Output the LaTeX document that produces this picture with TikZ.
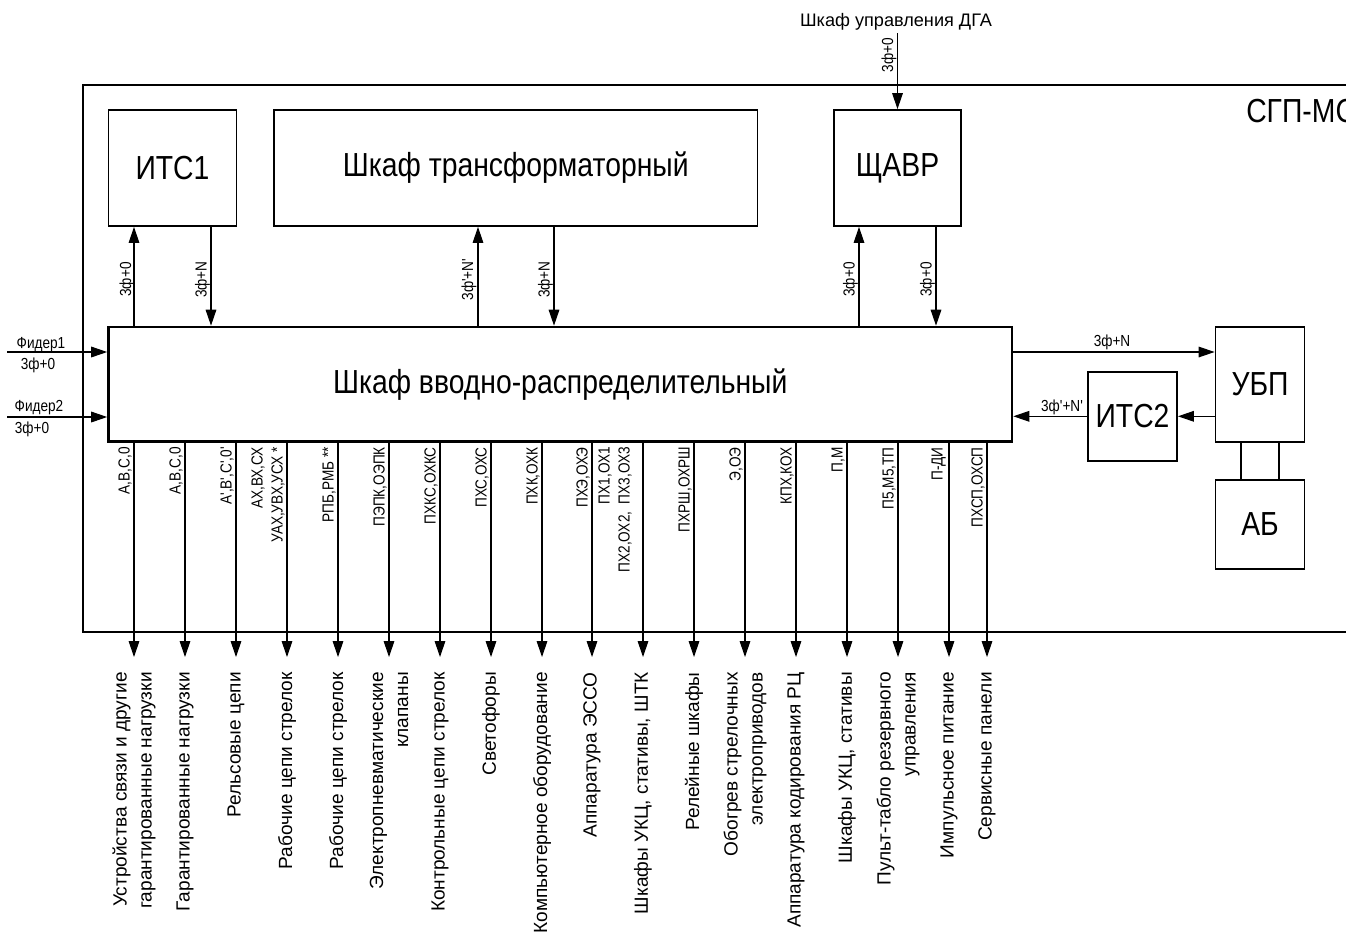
\documentclass[tikz,border=0pt]{standalone}
\usepackage{fontspec}
\setmainfont{Liberation Sans}
\newfontfamily\cbNarrow[FakeStretch=0.85]{Liberation Sans}
\usetikzlibrary{arrows.meta}
\newcommand\cbBoxFont{\cbNarrow\fontsize{25}{29}\selectfont}
\newcommand\cbDescFont{\fontsize{14.3}{18.75}\selectfont}
\newcommand\cbTagFont{\cbNarrow\fontsize{12}{15}\selectfont}
\begin{document}
\begin{tikzpicture}[x=0.75pt,y=-0.75pt,
  box/.style={draw,line width=1.4pt,inner sep=0pt,font=\cbBoxFont},
  mainbox/.style={box,line width=2pt},
  frame/.style={line width=1.1pt},
  wire/.style={line width=0.8pt},
  arr/.style={wire,-{Triangle[length=12pt,width=8pt]}},
  tag/.style={font=\cbTagFont,inner sep=0pt},
  vtag/.style={tag,rotate=90,anchor=base},
  otag/.style={tag,rotate=90,anchor=south east,align=right},
  desc/.style={font=\cbDescFont,inner sep=0pt,rotate=90,anchor=east,align=right}]
\useasboundingbox (0,0) rectangle (1346,933);

% enclosure of the power supply system
\draw[frame] (1350,85) -- (83,85) -- (83,632) -- (1350,632);
\node[font=\cbBoxFont,anchor=west,inner sep=0pt] (sgp) at (1246,111) {СГП-МС};

% cabinets
\node[box,minimum width=96pt,minimum height=87pt] (its1) at (172.5,168) {ИТС1};
\node[box,minimum width=362.6pt,minimum height=87pt] (trafo) at (515.75,168) {Шкаф трансформаторный};
\node[box,minimum width=95.25pt,minimum height=87pt] (shavr) at (897.5,168) {ЩАВР};
\node[mainbox,minimum width=677.6pt,minimum height=85.9pt] (main) at (560.25,384.25) {Шкаф вводно-распределительный};
\node[box,minimum width=66.75pt,minimum height=86pt] (ubp) at (1260,384.3) {УБП};
\node[box,minimum width=66.75pt,minimum height=67pt] (its2) at (1132.5,416.3) {ИТС2};
\node[box,minimum width=66.75pt,minimum height=66.5pt] (ab) at (1260,524.3) {АБ};

% diesel generator control input
\node[font=\fontsize{13.6}{16}\selectfont,inner sep=2pt] (dga) at (896,22) {Шкаф управления ДГА};
\draw[arr] (dga.south -| shavr.north) -- (shavr.north);
\node[vtag,anchor=base east] at (893,38) {3ф+0};

% links between the upper cabinets and the distribution cabinet
\foreach \n/\x in {a/134,b/211,c/478,d/554,e/859,f/936}
  \coordinate (t\n) at (\x,0);
\draw[arr] (main.north -| ta) -- (its1.south -| ta);
\draw[arr] (its1.south -| tb) -- (main.north -| tb);
\draw[arr] (main.north -| tc) -- (trafo.south -| tc);
\draw[arr] (trafo.south -| td) -- (main.north -| td);
\draw[arr] (main.north -| te) -- (shavr.south -| te);
\draw[arr] (shavr.south -| tf) -- (main.north -| tf);
\node[vtag] at (131,279.5) {3ф+0};
\node[vtag] at (206.5,279.5) {3ф+N};
\node[vtag] at (473,279.5) {3ф'+N'};
\node[vtag] at (549.5,279.5) {3ф+N};
\node[vtag] at (854.5,279.5) {3ф+0};
\node[vtag] at (931.5,279.5) {3ф+0};

% feeders
\coordinate (f1) at (7,352);
\coordinate (f2) at (7,417);
\draw[arr] (f1) -- (main.west |- f1);
\draw[arr] (f2) -- (main.west |- f2);
\node[tag,anchor=base] at (41,348) {Фидер1};
\node[tag,anchor=base] at (38,369) {3ф+0};
\node[tag,anchor=base] at (39,411) {Фидер2};
\node[tag,anchor=base] at (32,433) {3ф+0};

% uninterruptible power supply loop
\coordinate (r1) at (0,352);
\draw[arr] (main.east |- r1) -- (ubp.west |- r1);
\draw[arr] (ubp.west |- its2.east) -- (its2.east);
\draw[arr] (its2.west) -- (main.east |- its2.west);
\node[tag,anchor=base] at (1112,346.5) {3ф+N};
\node[tag,anchor=base] at (1062,411) {3ф'+N'};
\coordinate (b1) at (1241,0);
\coordinate (b2) at (1279,0);
\draw[wire] (ubp.south -| b1) -- (ab.north -| b1);
\draw[wire] (ubp.south -| b2) -- (ab.north -| b2);

% outgoing consumer lines
\foreach \i/\x/\g/\w/\d in {
  1/134/2/{А,В,С,0}/{Устройства связи и другие\\гарантированные нагрузки},
  2/185/2/{А,В,С,0}/{Гарантированные нагрузки},
  3/236/2/{А',В',С',0'}/{Рельсовые цепи},
  4/287/2/{АХ,ВХ,СХ\\УАХ,УВХ,УСХ *}/{Рабочие цепи стрелок},
  5/338/2/{РПБ,РМБ **}/{Рабочие цепи стрелок},
  6/389/2/{ПЭПК,ОЭПК}/{Электропневматические\\клапаны},
  7/440/2/{ПХКС,ОХКС}/{Контрольные цепи стрелок},
  8/491/2/{ПХС,ОХС}/{Светофоры},
  9/542/2/{ПХК,ОХК}/{Компьютерное оборудование},
  10/592/2/{ПХЭ,ОХЭ}/{Аппаратура ЭССО},
  11/643/11/{ПХ1,ОХ1\\ПХ2,ОХ2,\ \ ПХ3,ОХ3}/{Шкафы УКЦ, стативы, ШТК},
  12/694/2/{ПХРШ,ОХРШ}/{Релейные шкафы},
  13/745/2/{Э,ОЭ}/{Обогрев стрелочных\\электроприводов},
  14/796/2/{КПХ,КОХ}/{Аппаратура кодирования РЦ},
  15/847/2/{П,М}/{Шкафы УКЦ, стативы},
  16/898/2/{П5,М5,ТП}/{Пульт-табло резервного\\управления},
  17/949/3/{П-ДИ}/{Импульсное питание},
  18/987/2/{ПХСП,ОХСП}/{Сервисные панели}}{
  \coordinate (o\i) at (\x,657);
  \draw[arr] (main.south -| o\i) -- (o\i);
  \node[otag] (w\i) at (\x-\g,447) {\w};
  \node[desc] (d\i) at (\x,672) {\d};
}
\end{tikzpicture}
\end{document}
